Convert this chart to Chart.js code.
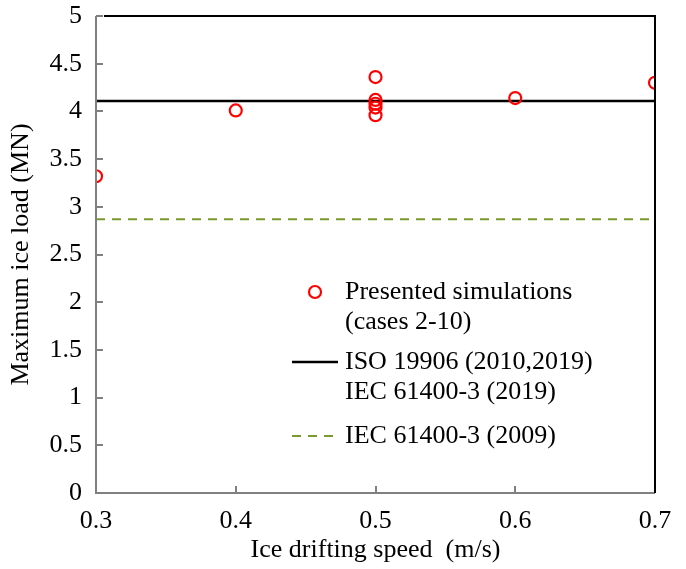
<!DOCTYPE html>
<html>
<head>
<meta charset="utf-8">
<script src="https://cdn.jsdelivr.net/npm/chart.js@4.4.1/dist/chart.umd.min.js"></script>
<style>
html,body{margin:0;padding:0;background:#fff;}
#wrap{width:686px;height:569px;position:relative;}
</style>
</head>
<body>
<div id="wrap"><canvas id="c" width="686" height="569"></canvas></div>
<script>
// ---- data ----
const speeds = [0.3, 0.4, 0.5, 0.5, 0.5, 0.5, 0.5, 0.6, 0.7];
const maxLoads = [3.32, 4.01, 4.36, 4.12, 4.08, 4.04, 3.96, 4.14, 4.30];
const lineSpan = [0.3, 0.7];
const isoLoad = 4.11;
const iec2009Load = 2.87;
const seriesLabels = [
  ['Presented simulations', '(cases 2-10)'],
  ['ISO 19906 (2010,2019)', 'IEC 61400-3 (2019)'],
  ['IEC 61400-3 (2009)']
];
const xTitle = 'Ice drifting speed  (m/s)';
const yTitle = 'Maximum ice load (MN)';

const FONT = 'Liberation Serif, Times New Roman, serif';
const FS = 26;

const greenCol = '#7A9A2E';

const frame = {
  id: 'frame',
  afterDatasetsDraw(chart) {
    const {ctx, chartArea: a, scales: {x, y}} = chart;
    ctx.save();
    // ticks inward
    ctx.strokeStyle = '#808080';
    ctx.lineWidth = 2;
    y.ticks.forEach(t => {
      const py = Math.round(y.getPixelForValue(t.value));
      ctx.beginPath(); ctx.moveTo(a.left, py); ctx.lineTo(a.left + 7, py); ctx.stroke();
    });
    x.ticks.forEach(t => {
      const px = Math.round(x.getPixelForValue(t.value));
      ctx.beginPath(); ctx.moveTo(px, a.bottom); ctx.lineTo(px, a.bottom - 7); ctx.stroke();
    });
    // left and bottom axes
    ctx.beginPath();
    ctx.moveTo(a.left, a.top); ctx.lineTo(a.left, a.bottom); ctx.lineTo(a.right, a.bottom);
    ctx.stroke();
    // top and right borders black
    ctx.strokeStyle = '#000';
    ctx.beginPath();
    ctx.moveTo(a.left + 8, a.top); ctx.lineTo(a.right, a.top); ctx.lineTo(a.right, a.bottom);
    ctx.stroke();

    // legend
    ctx.font = FS + 'px ' + FONT;
    ctx.fillStyle = '#000';
    ctx.textBaseline = 'middle';
    const tx = 345, lx0 = 292, lx1 = 338;
    const ds = chart.data.datasets;
    ctx.strokeStyle = ds[0].borderColor; ctx.lineWidth = 2.2;
    ctx.beginPath(); ctx.arc(315, 292, 6, 0, Math.PI * 2); ctx.stroke();
    ctx.fillText(seriesLabels[0][0], tx, 292);
    ctx.fillText(seriesLabels[0][1], tx, 322);
    ctx.strokeStyle = ds[1].borderColor; ctx.lineWidth = ds[1].borderWidth;
    ctx.beginPath(); ctx.moveTo(lx0, 362); ctx.lineTo(lx1, 362); ctx.stroke();
    ctx.fillText(seriesLabels[1][0], tx, 362);
    ctx.fillText(seriesLabels[1][1], tx, 392);
    ctx.strokeStyle = ds[2].borderColor; ctx.lineWidth = ds[2].borderWidth;
    ctx.setLineDash(ds[2].borderDash);
    ctx.beginPath(); ctx.moveTo(lx0, 436); ctx.lineTo(lx1, 436); ctx.stroke();
    ctx.setLineDash([]);
    ctx.fillText(seriesLabels[2][0], tx, 436);
    ctx.restore();
  }
};

new Chart(document.getElementById('c'), {
  type: 'scatter',
  data: {
    datasets: [
      {
        label: seriesLabels[0].join(' '),
        data: speeds.map((s, i) => ({x: s, y: maxLoads[i]})),
        showLine: false,
        pointStyle: 'circle',
        pointRadius: 6,
        pointBorderWidth: 2.2,
        borderColor: '#ff0000',
        backgroundColor: 'rgba(0,0,0,0)',
        pointBackgroundColor: 'rgba(0,0,0,0)',
        order: 0
      },
      {
        label: seriesLabels[1].join(' '),
        data: lineSpan.map(s => ({x: s, y: isoLoad})),
        showLine: true,
        pointRadius: 0,
        borderColor: '#000000',
        borderWidth: 2.5,
        order: 1
      },
      {
        label: seriesLabels[2][0],
        data: lineSpan.map(s => ({x: s, y: iec2009Load})),
        showLine: true,
        pointRadius: 0,
        borderColor: greenCol,
        borderWidth: 2,
        borderDash: [9, 7],
        order: 2
      }
    ]
  },
  options: {
    responsive: false,
    animation: false,
    devicePixelRatio: 1,
    layout: {padding: {top: 16, right: 31, left: 0, bottom: 0}},
    plugins: {legend: {display: false}, tooltip: {enabled: false}},
    scales: {
      x: {
        type: 'linear', min: 0.3, max: 0.7,
        grid: {display: false, drawTicks: false},
        border: {display: false},
        ticks: {
          stepSize: 0.1, padding: 13, color: '#000',
          font: {family: FONT, size: FS},
          callback: v => Number(v).toFixed(1)
        },
        title: {display: true, text: xTitle, color: '#000', font: {family: FONT, size: FS}, padding: {top: 0, bottom: 3}},
        afterFit: s => { s.height = 76; s.paddingLeft = 0; s.paddingRight = 0; }
      },
      y: {
        min: 0, max: 5,
        grid: {display: false, drawTicks: false},
        border: {display: false},
        ticks: {
          stepSize: 0.5, padding: 14, color: '#000',
          font: {family: FONT, size: FS},
          callback: v => String(+Number(v).toFixed(1))
        },
        title: {display: true, text: yTitle, color: '#000', font: {family: FONT, size: FS}, padding: {top: 6, bottom: 0}},
        afterFit: s => { s.width = 96; s.paddingTop = 0; s.paddingBottom = 0; }
      }
    }
  },
  plugins: [frame]
});
</script>
</body>
</html>
